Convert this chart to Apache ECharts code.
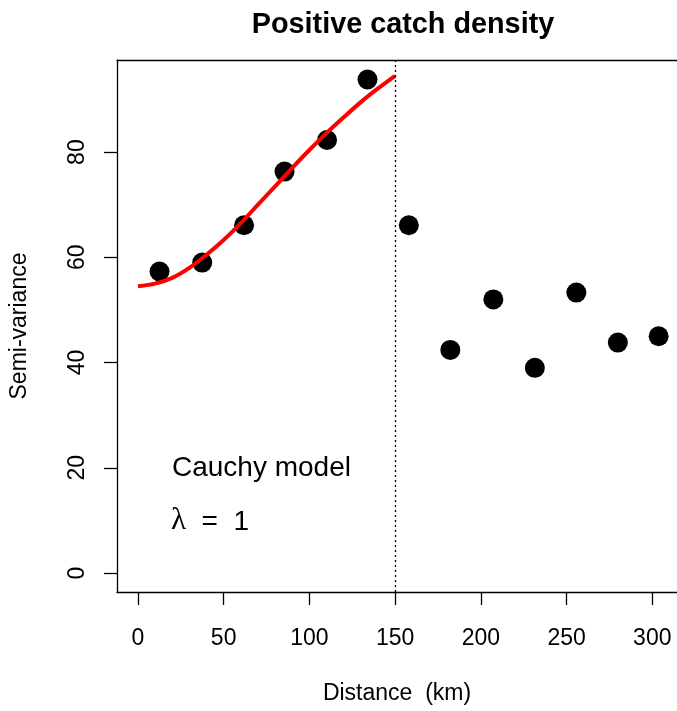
<!DOCTYPE html>
<html>
<head>
<meta charset="utf-8">
<title>Positive catch density</title>
<script src="https://cdn.jsdelivr.net/npm/echarts@6/dist/echarts.min.js"></script>
<style>
  html, body { margin: 0; padding: 0; background: #fff; overflow: hidden; }
  #chart { width: 677px; height: 711px; }
</style>
</head>
<body>
<div id="chart"></div>
<script>
// Axis ticks
const xTicks = [0, 50, 100, 150, 200, 250, 300];
const yTicks = [0, 20, 40, 60, 80];

// Empirical semi-variogram (lag distance in km, semi-variance)
const lagDistance = [12.6, 37.5, 61.9, 85.5, 110.3, 133.9, 158.0, 182.2, 207.3, 231.5, 255.7, 279.9, 303.7];
const semiVariance = [57.3, 59.0, 66.1, 76.3, 82.3, 93.8, 66.1, 42.4, 52.0, 39.0, 53.3, 43.8, 45.0];

// Fitted Cauchy model, up to the fitting cutoff
const modelDistance = [0, 10, 20, 30, 40, 50, 60, 70, 80, 90, 100, 110, 120, 130, 140, 150];
const modelVariance = [54.5, 55.0, 56.1, 58.0, 60.5, 63.3, 66.5, 70.0, 73.5, 77.0, 80.4, 83.6, 86.6, 89.5, 92.1, 94.5];

// Fitting cutoff distance
const cutoffDistance = 150;

const FONT = '"Liberation Sans", Arial, Helvetica, sans-serif';
const SERIF = '"Liberation Serif", "DejaVu Serif", serif';
const X_MIN = -12.2;
const X_MAX = 314.4;

const chart = echarts.init(document.getElementById('chart'), null, { renderer: 'canvas' });

const frameLine = { show: true, onZero: false, lineStyle: { color: '#000', width: 1.3 } };

chart.setOption({
  backgroundColor: '#ffffff',
  animation: false,
  grid: {
    left: 115,
    top: 60,
    right: 0,
    bottom: 119,
    show: false,
    containLabel: false
  },
  title: {
    text: 'Positive catch density',
    left: 398,
    top: 6,
    textAlign: 'center',
    textStyle: { fontFamily: FONT, fontSize: 28.8, fontWeight: 'bold', color: '#000' }
  },
  xAxis: [
    {
      type: 'value',
      position: 'bottom',
      min: X_MIN,
      max: X_MAX,
      axisLine: frameLine,
      axisTick: { show: true, length: 13, customValues: xTicks, lineStyle: { color: '#000', width: 1.3 } },
      axisLabel: { customValues: xTicks, margin: 35, color: '#000', fontFamily: FONT, fontSize: 23 },
      splitLine: { show: false },
      name: 'Distance  (km)',
      nameLocation: 'middle',
      nameGap: 90,
      nameTextStyle: { fontFamily: FONT, fontSize: 23, color: '#000' }
    },
    {
      // top edge of the plot frame
      type: 'value',
      position: 'top',
      min: X_MIN,
      max: X_MAX,
      axisLine: frameLine,
      axisTick: { show: false },
      axisLabel: { show: false },
      splitLine: { show: false }
    }
  ],
  yAxis: {
    type: 'value',
    min: -3.6,
    max: 97.5,
    axisLine: frameLine,
    axisTick: { show: true, length: 13, customValues: yTicks, lineStyle: { color: '#000', width: 1.3 } },
    axisLabel: { customValues: yTicks, rotate: 90, margin: 28, color: '#000', fontFamily: FONT, fontSize: 23 },
    splitLine: { show: false },
    name: 'Semi-variance',
    nameLocation: 'middle',
    nameGap: 86,
    nameRotate: 90,
    nameTextStyle: { fontFamily: FONT, fontSize: 23, color: '#000' }
  },
  graphic: [
    {
      type: 'text',
      left: 172,
      top: 454,
      style: { text: 'Cauchy model', font: '28px ' + FONT, fill: '#000' }
    },
    {
      type: 'text',
      left: 171,
      top: 505,
      style: {
        text: '{sym|λ}{txt|  =  1}',
        rich: {
          sym: { fontFamily: SERIF, fontSize: 31, fill: '#000', verticalAlign: 'bottom' },
          txt: { fontFamily: FONT, fontSize: 28, fill: '#000', verticalAlign: 'bottom' }
        }
      }
    }
  ],
  series: [
    {
      type: 'scatter',
      xAxisIndex: 0,
      data: lagDistance.map((d, i) => [d, semiVariance[i]]),
      symbol: 'circle',
      symbolSize: 20,
      itemStyle: { color: '#000', opacity: 1 },
      z: 2,
      markLine: {
        silent: true,
        symbol: ['none', 'none'],
        label: { show: false },
        lineStyle: { color: '#000', type: [2, 3], width: 1.3 },
        data: [{ xAxis: cutoffDistance }]
      }
    },
    {
      type: 'line',
      xAxisIndex: 0,
      data: modelDistance.map((d, i) => [d, modelVariance[i]]),
      smooth: 0.3,
      showSymbol: false,
      lineStyle: { color: '#ff0000', width: 4 },
      z: 3
    }
  ]
});
</script>
</body>
</html>
